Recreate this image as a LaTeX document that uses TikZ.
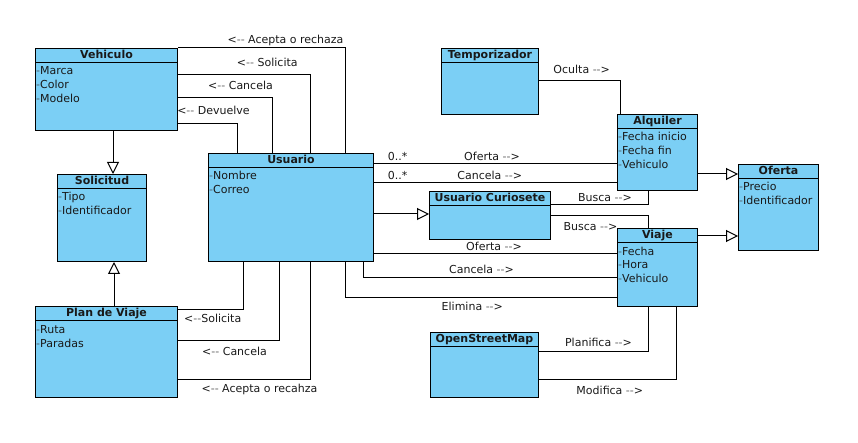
\documentclass[tikz,border=0pt]{standalone}
\usepackage{fontspec}
\setmainfont{DejaVu Sans}
\usepackage{xcolor}
\usepackage{tikz}
\usetikzlibrary{positioning, arrows.meta}

\definecolor{celeste}{RGB}{123,207,245}
\definecolor{guion}{RGB}{85,95,105}

\tikzset{
  every node/.style={font=\fontsize{11}{14}\selectfont, text=black!90},
  clase/.style={draw=black, fill=celeste, line width=1pt, inner sep=0pt, anchor=north west},
  titulo/.style={anchor=base, inner sep=0pt, font=\fontsize{11}{14}\selectfont\bfseries},
  atributos/.style={anchor=north west, inner sep=0pt, align=left},
  borde/.style={line width=1pt, black},
  etiqueta/.style={anchor=base, inner sep=0pt},
  hereda/.style={line width=1pt, -{Triangle[open, length=12pt, width=12pt]}}
}

% one attribute line
\newcommand{\atrib}[1]{\strut\textcolor{guion}{-}#1}
% text arrows, no dash ligature
\newcommand{\izq}{<\textcolor{black!60}{-{}-}}
\newcommand{\der}{\textcolor{black!60}{-{}-}>}
% class box: name, x, y, width, height, title, attributes
\newcommand{\umlclase}[7]{%
  \node[clase, minimum width=#4pt, minimum height=#5pt] (#1) at (#2,#3) {};
  \node[titulo] (#1-t) at ([yshift=-10.5pt]#1.north) {#6};
  \draw[borde] ([yshift=-14.4pt]#1.north west) -- ([yshift=-14.4pt]#1.north east);
  \node[atributos] (#1-a) at ([xshift=1pt,yshift=-17pt]#1.north west) {#7};
}

\begin{document}
\begin{tikzpicture}[x=1pt, y=-1pt]
  \useasboundingbox (0,0) rectangle (858,443);

  % classes
  \umlclase{vehiculo}{35}{48}{142}{82}{Vehiculo}{\atrib{Marca}\\\atrib{Color}\\\atrib{Modelo}}
  \umlclase{solicitud}{57}{174}{89}{87}{Solicitud}{\atrib{Tipo}\\\atrib{Identificador}}
  \umlclase{plan}{35}{306}{142}{91}{Plan de Viaje}{\atrib{Ruta}\\\atrib{Paradas}}
  \umlclase{usuario}{208}{153}{165}{108}{Usuario}{\atrib{Nombre}\\\atrib{Correo}}
  \umlclase{temporizador}{441}{48}{97}{66}{Temporizador}{}
  \umlclase{curiosete}{429}{191}{121}{48}{Usuario Curiosete}{}
  \umlclase{osm}{430}{332}{108}{65}{OpenStreetMap}{}
  \umlclase{alquiler}{617}{114}{80}{76}{Alquiler}{\atrib{Fecha inicio}\\\atrib{Fecha fin}\\\atrib{Vehiculo}}
  \umlclase{viaje}{617}{228}{80}{78}{Viaje}{\atrib{Fecha}\\\atrib{Hora}\\\atrib{Vehiculo}}
  \umlclase{oferta}{738}{164}{80}{86}{Oferta}{\atrib{Precio}\\\atrib{Identificador}}

  % bends
  \coordinate (b1) at (345,48);
  \coordinate (b2) at (310,75);
  \coordinate (b3) at (272,98);
  \coordinate (b4) at (237,124);
  \coordinate (b5) at (243,309);
  \coordinate (b6) at (279,340);
  \coordinate (b7) at (310,379);
  \coordinate (b8) at (363,277);
  \coordinate (b9) at (345,297);
  \coordinate (b10) at (620,81);
  \coordinate (b11) at (648,205);
  \coordinate (b12) at (648,216);
  \coordinate (b13) at (648,351);
  \coordinate (b14) at (676,379);
  \coordinate (h1) at (0,164);
  \coordinate (h2) at (0,183);
  \coordinate (h3) at (0,214);
  \coordinate (h4) at (0,254);
  \coordinate (h5) at (0,174);
  \coordinate (h6) at (0,236);
  \coordinate (v1) at (113,0);
  \coordinate (v2) at (114,0);

  % vehiculo -- usuario
  \draw[borde] (b1 -| vehiculo.east) -- (b1) -- (b1 |- usuario.north);
  \draw[borde] (b2 -| vehiculo.east) -- (b2) -- (b2 |- usuario.north);
  \draw[borde] (b3 -| vehiculo.east) -- (b3) -- (b3 |- usuario.north);
  \draw[borde] (b4 -| vehiculo.east) -- (b4) -- (b4 |- usuario.north);
  % herencia
  \draw[hereda] (vehiculo.south -| v1) -- (solicitud.north -| v1);
  \draw[hereda] (plan.north -| v2) -- (solicitud.south -| v2);
  \draw[hereda] (usuario.east |- h3) -- (curiosete.west |- h3);
  \draw[hereda] (alquiler.east |- h5) -- (oferta.west |- h5);
  \draw[hereda] (viaje.east |- h6) -- (oferta.west |- h6);
  % plan -- usuario
  \draw[borde] (b5 -| plan.east) -- (b5) -- (b5 |- usuario.south);
  \draw[borde] (b6 -| plan.east) -- (b6) -- (b6 |- usuario.south);
  \draw[borde] (b7 -| plan.east) -- (b7) -- (b7 |- usuario.south);
  % usuario -- alquiler / viaje
  \draw[borde] (usuario.east |- h1) -- (alquiler.west |- h1);
  \draw[borde] (usuario.east |- h2) -- (alquiler.west |- h2);
  \draw[borde] (usuario.east |- h4) -- (viaje.west |- h4);
  \draw[borde] (b8 |- usuario.south) -- (b8) -- (b8 -| viaje.west);
  \draw[borde] (b9 |- usuario.south) -- (b9) -- (b9 -| viaje.west);
  % otros
  \draw[borde] (b10 -| temporizador.east) -- (b10) -- (b10 |- alquiler.north);
  \draw[borde] (b11 -| curiosete.east) -- (b11) -- (b11 |- alquiler.south);
  \draw[borde] (b12 -| curiosete.east) -- (b12) -- (b12 |- viaje.north);
  \draw[borde] (b13 -| osm.east) -- (b13) -- (b13 |- viaje.south);
  \draw[borde] (b14 -| osm.east) -- (b14) -- (b14 |- viaje.south);

  % labels
  \node[etiqueta] (l1) at (285.5,44) {\izq{} Acepta o rechaza};
  \node[etiqueta] (l2) at (267.3,66.7) {\izq{} Solicita};
  \node[etiqueta] (l3) at (240.5,90) {\izq{} Cancela};
  \node[etiqueta] (l4) at (213.5,114.7) {\izq{} Devuelve};
  \node[etiqueta] (l5) at (581.7,73.7) {Oculta \der};
  \node[etiqueta] (l6) at (397.7,160.3) {0..*};
  \node[etiqueta] (l7) at (492,160.3) {Oferta \der};
  \node[etiqueta] (l8) at (397.7,179.5) {0..*};
  \node[etiqueta] (l9) at (489.7,179.5) {Cancela \der};
  \node[etiqueta] (l10) at (605,201.3) {Busca \der};
  \node[etiqueta] (l11) at (590.5,230.3) {Busca \der};
  \node[etiqueta] (l12) at (494,250.7) {Oferta \der};
  \node[etiqueta] (l13) at (481.5,273.7) {Cancela \der};
  \node[etiqueta] (l14) at (472.3,310) {Elimina \der};
  \node[etiqueta] (l15) at (212.7,322.7) {\izq{}Solicita};
  \node[etiqueta] (l16) at (234.5,355.7) {\izq{} Cancela};
  \node[etiqueta] (l17) at (259.5,392.7) {\izq{} Acepta o recahza};
  \node[etiqueta] (l18) at (598.5,346.7) {Planifica \der};
  \node[etiqueta] (l19) at (609.8,394.7) {Modifica \der};
\end{tikzpicture}
\end{document}
